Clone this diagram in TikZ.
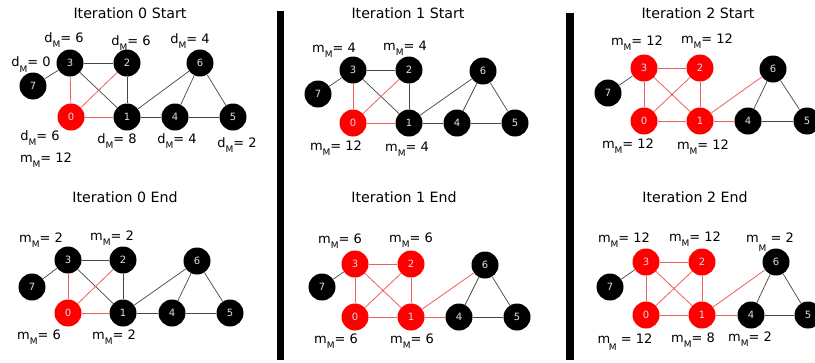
\documentclass[tikz,border=0pt]{standalone}
\usepackage{fontspec}
\setmainfont{DejaVu Sans}
\definecolor{edgegray}{RGB}{70,70,70}
\definecolor{edgered}{RGB}{235,95,95}
\definecolor{numgray}{RGB}{225,225,225}
\newcommand\subM[1][5.5pt]{\raisebox{-#1}{\fontsize{9}{9}\selectfont M}}
\newcommand\lab[2]{#1\subM= #2}
\tikzset{
  gnode/.style={circle, fill=black, minimum size=27pt, inner sep=0pt, text=numgray, font=\fontsize{10}{10}\selectfont},
  rnode/.style={gnode, fill=red},
  ged/.style={draw=edgegray, line width=0.7pt},
  red edge/.style={draw=edgered, line width=0.8pt},
  lbl/.style={anchor=base, inner sep=0pt, font=\fontsize{13}{13}\selectfont},
  ttl/.style={anchor=base, inner sep=0pt, font=\fontsize{14.2}{14.2}\selectfont},
  bar/.style={fill=black, draw=none}
}
% edges, first state: only 0's edges red
\newcommand\edgesA[1]{%
  \draw[ged] (#1-3) -- (#1-2);
  \draw[ged] (#1-3) -- (#1-7);
  \draw[ged] (#1-3) -- (#1-1);
  \draw[ged] (#1-2) -- (#1-1);
  \draw[ged] (#1-1) -- (#1-6);
  \draw[ged] (#1-1) -- (#1-4);
  \draw[ged] (#1-4) -- (#1-6);
  \draw[ged] (#1-4) -- (#1-5);
  \draw[ged] (#1-6) -- (#1-5);
  \draw[red edge] (#1-3) -- (#1-0);
  \draw[red edge] (#1-2) -- (#1-0);
  \draw[red edge] (#1-0) -- (#1-1);
}
% edges, second state: clique red
\newcommand\edgesB[1]{%
  \draw[ged] (#1-3) -- (#1-7);
  \draw[ged] (#1-4) -- (#1-6);
  \draw[ged] (#1-4) -- (#1-5);
  \draw[ged] (#1-6) -- (#1-5);
  \draw[red edge] (#1-3) -- (#1-2);
  \draw[red edge] (#1-3) -- (#1-0);
  \draw[red edge] (#1-3) -- (#1-1);
  \draw[red edge] (#1-2) -- (#1-0);
  \draw[red edge] (#1-2) -- (#1-1);
  \draw[red edge] (#1-0) -- (#1-1);
  \draw[red edge] (#1-1) -- (#1-6);
  \draw[red edge] (#1-1) -- (#1-4);
}
\begin{document}
\begin{tikzpicture}[x=1pt,y=-1pt]
\clip (0,0) rectangle (815,362);
\useasboundingbox (0,0) rectangle (815,362);
\fill[white] (0,0) rectangle (815,362);

% separators
\path[bar] (277,11) rectangle (284,360);
\path[bar] (566,13) rectangle (574,360);

% ---------- Panel 1: Iteration 0 Start
\node[ttl] (t1) at (130,18.3) {Iteration 0 Start};
\node[gnode] (a-3) at (70,63) {3};
\node[gnode] (a-2) at (127,63) {2};
\node[gnode] (a-6) at (200,63) {6};
\node[gnode] (a-7) at (33,86) {7};
\node[rnode] (a-0) at (71,117) {0};
\node[gnode] (a-1) at (127,117) {1};
\node[gnode] (a-4) at (175,117) {4};
\node[gnode] (a-5) at (233,117) {5};
\edgesA{a}
\node[lbl] (la1) at (64,42) {\lab{d}{6}};
\node[lbl] (la2) at (131,45) {\lab{d}{6}};
\node[lbl] (la3) at (190,43) {\lab{d}{4}};
\node[lbl] (la4) at (31,66.7) {\lab{d}{0}};
\node[lbl] (la5) at (40,140) {\lab{d}{6}};
\node[lbl] (la6) at (46,162) {\lab{m}{12}};
\node[lbl] (la7) at (117,143) {\lab{d}{8}};
\node[lbl] (la8) at (177,143) {\lab{d}{4}};
\node[lbl] (la9) at (237,147) {\lab{d}{2}};

% ---------- Panel 2: Iteration 1 Start
\node[ttl] (t2) at (408,18) {Iteration 1 Start};
\node[gnode] (b-3) at (353,70) {3};
\node[gnode] (b-2) at (409,70) {2};
\node[gnode] (b-6) at (483,71) {6};
\node[gnode] (b-7) at (318,94) {7};
\node[rnode] (b-0) at (353,123) {0};
\node[gnode] (b-1) at (409,123) {1};
\node[gnode] (b-4) at (457,123) {4};
\node[gnode] (b-5) at (515,123) {5};
\edgesA{b}
\node[lbl] (lb1) at (334,52) {\lab{m}{4}};
\node[lbl] (lb2) at (405,50) {\lab{m}{4}};
\node[lbl] (lb3) at (336,150) {\lab{m}{12}};
\node[lbl] (lb4) at (407,151) {\lab{m}{4}};

% ---------- Panel 3: Iteration 2 Start
\node[ttl] (t3) at (698,18) {Iteration 2 Start};
\node[rnode] (c-3) at (644,68) {3};
\node[rnode] (c-2) at (700,68) {2};
\node[gnode] (c-6) at (773,69) {6};
\node[gnode] (c-7) at (608,93) {7};
\node[rnode] (c-0) at (644,121) {0};
\node[rnode] (c-1) at (700,121) {1};
\node[gnode] (c-4) at (748,121) {4};
\node[gnode] (c-5) at (807,121) {5};
\edgesB{c}
\node[lbl] (lc1) at (637,45) {\lab{m}{12}};
\node[lbl] (lc2) at (707,43) {\lab{m}{12}};
\node[lbl] (lc3) at (628,148) {\lab{m}{12}};
\node[lbl] (lc4) at (703,149) {\lab{m}{12}};

% ---------- Panel 4: Iteration 0 End
\node[ttl] (t4) at (125,202) {Iteration 0 End};
\node[gnode] (d-3) at (68,260) {3};
\node[gnode] (d-2) at (123,260) {2};
\node[gnode] (d-6) at (197,261) {6};
\node[gnode] (d-7) at (32,287) {7};
\node[rnode] (d-0) at (68,313) {0};
\node[gnode] (d-1) at (123,313) {1};
\node[gnode] (d-4) at (172,313) {4};
\node[gnode] (d-5) at (230,313) {5};
\edgesA{d}
\node[lbl] (ld1) at (41,242) {\lab{m}{2}};
\node[lbl] (ld2) at (112,240) {\lab{m}{2}};
\node[lbl] (ld3) at (39,339) {\lab{m}{6}};
\node[lbl] (ld4) at (114,339) {\lab{m}{2}};

% ---------- Panel 5: Iteration 1 End
\node[ttl] (t5) at (404,202) {Iteration 1 End};
\node[rnode] (e-3) at (355,264) {3};
\node[rnode] (e-2) at (411,264) {2};
\node[gnode] (e-6) at (485,265) {6};
\node[gnode] (e-7) at (322,287) {7};
\node[rnode] (e-0) at (355,317) {0};
\node[rnode] (e-1) at (411,317) {1};
\node[gnode] (e-4) at (459,317) {4};
\node[gnode] (e-5) at (517,317) {5};
\edgesB{e}
\node[lbl] (le1) at (340,243) {\lab{m}{6}};
\node[lbl] (le2) at (411,242) {\lab{m}{6}};
\node[lbl] (le3) at (336,343) {\lab{m}{6}};
\node[lbl] (le4) at (412,343) {\lab{m}{6}};

% ---------- Panel 6: Iteration 2 End
\node[ttl] (t6) at (695,202) {Iteration 2 End};
\node[rnode] (f-3) at (646,262) {3};
\node[rnode] (f-2) at (702,262) {2};
\node[gnode] (f-6) at (776,262) {6};
\node[gnode] (f-7) at (610,287) {7};
\node[rnode] (f-0) at (646,315) {0};
\node[rnode] (f-1) at (702,315) {1};
\node[gnode] (f-4) at (751,315) {4};
\node[gnode] (f-5) at (808,315) {5};
\edgesB{f}
\node[lbl] (lf1) at (624,242) {\lab{m}{12}};
\node[lbl] (lf2) at (695,241) {\lab{m}{12}};
\node[lbl] (lf3) at (770,242) {m\subM[9pt] = 2};
\node[lbl] (lf4) at (625,343) {m\hspace{-1.5pt}\subM[7pt] = 12};
\node[lbl] (lf5) at (693,342) {\lab{m}{8}};
\node[lbl] (lf6) at (750,341) {\lab{m}{2}};
\end{tikzpicture}
\end{document}
